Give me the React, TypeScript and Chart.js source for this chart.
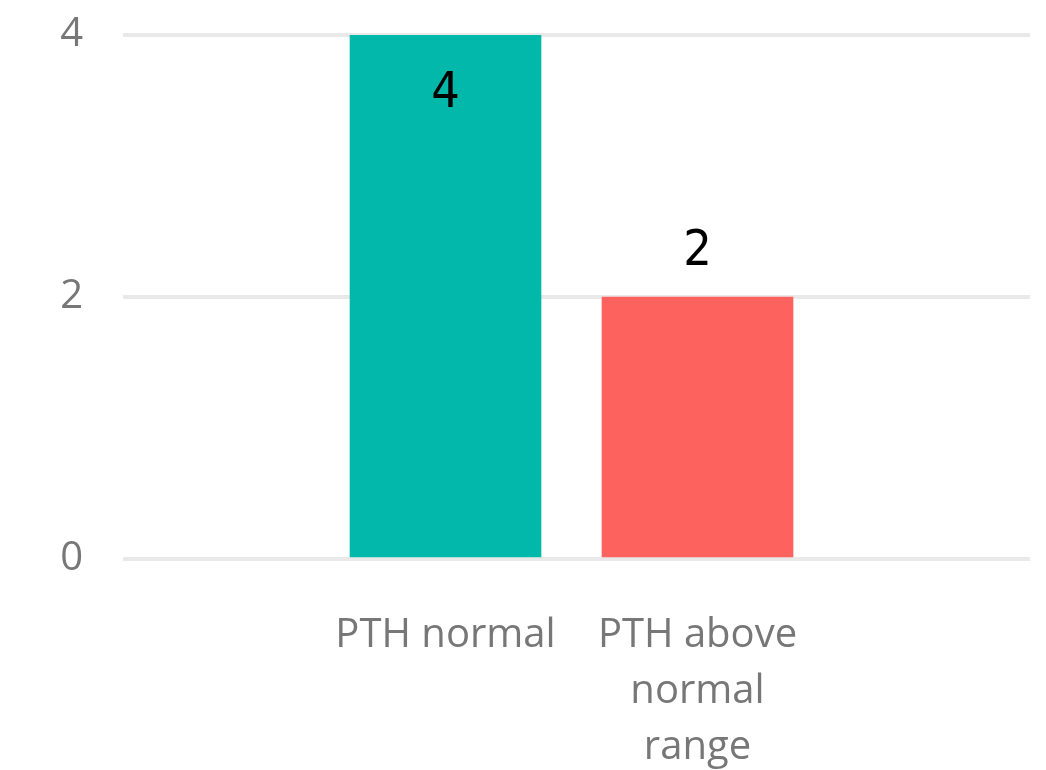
import React, { useEffect, useRef } from "react";
import { Chart, registerables } from "chart.js";

Chart.register(...registerables);

const categories: string[][] = [["PTH normal"], ["PTH above", "normal", "range"]];
const positions: number[] = [1, 2];
const values: number[] = [4, 2];
const barColors: string[] = ["#01B8AA", "#FD625E"];
const yTicks: number[] = [0, 2, 4];

const LABEL_FONT = '"Open Sans", "Noto Sans", sans-serif';
const DATA_FONT = '"DejaVu Sans Condensed", "Liberation Sans Narrow", sans-serif';

const dataLabelPlugin = {
  id: "dataLabels",
  afterDatasetsDraw(chart: any) {
    const ctx = chart.ctx;
    const area = chart.chartArea;
    const meta = chart.getDatasetMeta(0);
    ctx.save();
    ctx.font = `normal 50px ${DATA_FONT}`;
    ctx.fillStyle = "#000000";
    ctx.textAlign = "center";
    ctx.textBaseline = "alphabetic";
    const textH = 36;
    meta.data.forEach((bar: any, i: number) => {
      const txt = String(values[i]);
      let baseY = bar.y - 32;
      if (baseY - textH < area.top) {
        baseY = bar.y + 72;
      }
      ctx.fillText(txt, bar.x, baseY);
    });
    ctx.restore();
  },
};

export default function App() {
  const ref = useRef<HTMLCanvasElement | null>(null);

  useEffect(() => {
    document.body.style.margin = "0";
    const canvas = ref.current;
    if (!canvas) return;
    const chart = new Chart(canvas, {
      type: "bar",
      data: {
        datasets: [
          {
            data: positions.map((x, i) => ({ x, y: values[i] })),
            backgroundColor: barColors,
            borderWidth: 0,
            barThickness: 191,
          },
        ],
      },
      options: {
        responsive: false,
        animation: false,
        layout: { padding: { top: 35, right: 16, bottom: 0, left: 0 } },
        plugins: {
          legend: { display: false },
          tooltip: { enabled: false },
        },
        scales: {
          x: {
            type: "linear",
            offset: false,
            min: -0.2798,
            max: 3.3194,
            grid: { display: false, drawTicks: false, offset: false },
            border: { display: false },
            afterBuildTicks: (scale: any) => {
              scale.ticks = positions.map((v) => ({ value: v }));
            },
            afterFit: (scale: any) => {
              scale.height = 211;
              scale.paddingLeft = 0;
              scale.paddingRight = 0;
            },
            ticks: {
              autoSkip: false,
              maxRotation: 0,
              minRotation: 0,
              padding: 49,
              color: "#777777",
              font: { family: LABEL_FONT, size: 40, lineHeight: 56 / 40 },
              callback: (_v: any, index: number) => categories[index],
            },
          },
          y: {
            min: 0,
            max: 4,
            grid: { color: "#e9e9e9", lineWidth: 4, drawTicks: false },
            border: { display: false },
            afterBuildTicks: (scale: any) => {
              scale.ticks = yTicks.map((v) => ({ value: v }));
            },
            afterFit: (scale: any) => {
              scale.width = 123;
              scale.paddingTop = 0;
              scale.paddingBottom = 0;
            },
            ticks: {
              padding: 40,
              color: "#777777",
              font: { family: LABEL_FONT, size: 40 },
            },
          },
        },
      },
      plugins: [dataLabelPlugin],
    } as any);
    return () => chart.destroy();
  }, []);

  return (
    <div style={{ width: 1046, height: 770, background: "#ffffff" }}>
      <canvas ref={ref} width={1046} height={770} style={{ display: "block" }} />
    </div>
  );
}
